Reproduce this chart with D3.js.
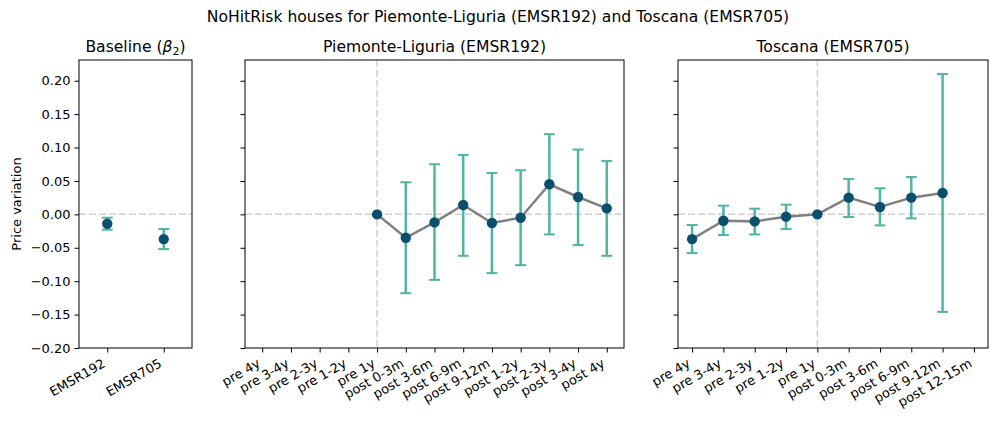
<!DOCTYPE html>
<html>
<head>
<meta charset="utf-8">
<script src="https://cdn.jsdelivr.net/npm/d3@7"></script>
<style>
  body { margin: 0; background: #fff; }
  svg { font-family: "DejaVu Sans", sans-serif; }
</style>
</head>
<body>
<div id="chart"></div>
<script>
// данные: базовые коэффициенты
const baseCats = ["EMSR192", "EMSR705"];
const baseVal = [-0.014, -0.037];
const baseLo = [-0.023, -0.052];
const baseHi = [-0.005, -0.022];

// Piemonte-Liguria
const pieCats = ["pre 4y", "pre 3-4y", "pre 2-3y", "pre 1-2y", "pre 1y", "post 0-3m", "post 3-6m",
    "post 6-9m", "post 9-12m", "post 1-2y", "post 2-3y", "post 3-4y", "post 4y"];
const pieVal = [null, null, null, null, 0, -0.035, -0.012, 0.014, -0.013, -0.005, 0.045, 0.026, 0.009];
const pieLo = [null, null, null, null, null, -0.118, -0.098, -0.062, -0.088, -0.076, -0.030, -0.046, -0.062];
const pieHi = [null, null, null, null, null, 0.048, 0.075, 0.089, 0.062, 0.066, 0.120, 0.097, 0.080];

// Toscana
const tosCats = ["pre 4y", "pre 3-4y", "pre 2-3y", "pre 1-2y", "pre 1y", "post 0-3m", "post 3-6m",
    "post 6-9m", "post 9-12m", "post 12-15m"];
const tosVal = [-0.037, -0.0095, -0.0105, -0.0035, 0, 0.025, 0.011, 0.025, 0.032, null];
const tosLo = [-0.058, -0.031, -0.030, -0.022, null, -0.004, -0.0165, -0.006, -0.146, null];
const tosHi = [-0.016, 0.013, 0.0085, 0.0145, null, 0.053, 0.039, 0.056, 0.210, null];

const yTicks = [-0.20, -0.15, -0.10, -0.05, 0.00, 0.05, 0.10, 0.15, 0.20];

const width = 997, height = 423;
const plotTop = 60, plotBottom = 348;
const errColor = "#4db6a5", dotColor = "#0a4f6e", lineColor = "#808080", refColor = "#d0d0d0";

let svg = d3.select("#chart").append("svg")
    .attr("width", width)
    .attr("height", height);

let scaleY = d3.scaleLinear().domain([-0.2, 0.231]).range([plotBottom, plotTop]);

function toRows(cats, val, lo, hi) {
    return cats.map((c, i) => ({ i: i, cat: c, v: val[i], lo: lo[i], hi: hi[i] }));
}

function drawPanel(opts) {
    let rows = toRows(opts.cats, opts.val, opts.lo, opts.hi);
    let n = opts.cats.length;
    let scaleX = d3.scaleLinear().domain([-opts.margin, n - 1 + opts.margin]).range([opts.x0, opts.x1]);
    let g = svg.append("g");

    // опорные линии
    g.append("line")
        .attr("x1", opts.x0).attr("x2", opts.x1)
        .attr("y1", scaleY(0)).attr("y2", scaleY(0))
        .attr("stroke", refColor).attr("stroke-width", 1.5).attr("stroke-dasharray", "7,3");
    if (opts.vline != null) {
        g.append("line")
            .attr("x1", scaleX(opts.vline)).attr("x2", scaleX(opts.vline))
            .attr("y1", plotTop).attr("y2", plotBottom)
            .attr("stroke", refColor).attr("stroke-width", 1.5).attr("stroke-dasharray", "7,3");
    }

    // усы ошибок
    let err = rows.filter(d => d.lo != null);
    g.selectAll(".err").data(err).enter().append("line")
        .attr("x1", d => scaleX(d.i)).attr("x2", d => scaleX(d.i))
        .attr("y1", d => scaleY(d.lo)).attr("y2", d => scaleY(d.hi))
        .attr("stroke", errColor).attr("stroke-width", 2.5);
    ["lo", "hi"].forEach(k => {
        g.selectAll(".cap" + k).data(err).enter().append("line")
            .attr("x1", d => scaleX(d.i) - 5.5).attr("x2", d => scaleX(d.i) + 5.5)
            .attr("y1", d => scaleY(d[k])).attr("y2", d => scaleY(d[k]))
            .attr("stroke", errColor).attr("stroke-width", 2);
    });

    let pts = rows.filter(d => d.v != null);
    if (opts.line) {
        g.append("path").datum(pts)
            .attr("d", d3.line().x(d => scaleX(d.i)).y(d => scaleY(d.v)))
            .attr("fill", "none").attr("stroke", lineColor).attr("stroke-width", 2.5);
    }
    g.selectAll(".dot").data(pts).enter().append("circle")
        .attr("cx", d => scaleX(d.i)).attr("cy", d => scaleY(d.v))
        .attr("r", 5.2).attr("fill", dotColor);

    // оси
    let axisX = d3.axisBottom(scaleX)
        .tickValues(d3.range(n))
        .tickFormat(i => opts.cats[i])
        .tickSize(4.5).tickSizeOuter(0);
    let gx = g.append("g")
        .attr("transform", `translate(0, ${plotBottom})`)
        .call(axisX)
        .attr("font-size", 13)
        .attr("font-family", "DejaVu Sans");
    gx.select(".domain").remove();
    gx.selectAll("text")
        .attr("text-anchor", "end")
        .attr("dy", null)
        .attr("y", 0)
        .attr("transform", "translate(-1.5, 18) rotate(-30)");

    let axisY = d3.axisLeft(scaleY)
        .tickValues(yTicks)
        .tickFormat(opts.labelsY ? (d => d3.format(".2f")(d).replace("-", "\u2212")) : "")
        .tickSize(4.5).tickSizeOuter(0).tickPadding(4);
    let gy = g.append("g")
        .attr("transform", `translate(${opts.x0}, 0)`)
        .call(axisY)
        .attr("font-size", 13)
        .attr("font-family", "DejaVu Sans");
    gy.select(".domain").remove();
    g.selectAll(".tick line").attr("stroke", "#000").attr("stroke-width", 1);
    g.selectAll(".tick text").attr("fill", "#000");

    g.append("rect")
        .attr("x", opts.x0).attr("y", plotTop)
        .attr("width", opts.x1 - opts.x0).attr("height", plotBottom - plotTop)
        .attr("fill", "none").attr("stroke", "#000").attr("stroke-width", 1);

    let t = g.append("text")
        .attr("x", (opts.x0 + opts.x1) / 2).attr("y", 52)
        .attr("text-anchor", "middle").attr("font-size", "15.6px");
    opts.title(t);
}

drawPanel({
    cats: baseCats, val: baseVal, lo: baseLo, hi: baseHi,
    x0: 79, x1: 192, margin: 0.5, line: false, labelsY: true, vline: null,
    title: t => {
        t.append("tspan").text("Baseline (");
        t.append("tspan").attr("font-style", "italic").text("\u03b2");
        t.append("tspan").attr("font-size", "11px").attr("dy", 3).text("2");
        t.append("tspan").attr("dy", -3).text(")");
    }
});

drawPanel({
    cats: pieCats, val: pieVal, lo: pieLo, hi: pieHi,
    x0: 245, x1: 624, margin: 0.6, line: true, labelsY: false, vline: 4,
    title: t => t.text("Piemonte-Liguria (EMSR192)")
});

drawPanel({
    cats: tosCats, val: tosVal, lo: tosLo, hi: tosHi,
    x0: 678, x1: 988, margin: 0.45, line: true, labelsY: false, vline: 4,
    title: t => t.text("Toscana (EMSR705)")
});

// подписи
svg.append("text")
    .attr("x", 498).attr("y", 22)
    .attr("text-anchor", "middle").attr("font-size", "15.6px")
    .text("NoHitRisk houses for Piemonte-Liguria (EMSR192) and Toscana (EMSR705)");

svg.append("text")
    .attr("transform", `translate(21, ${(plotTop + plotBottom) / 2}) rotate(-90)`)
    .attr("text-anchor", "middle").attr("font-size", "13px")
    .text("Price variation");
</script>
</body>
</html>
